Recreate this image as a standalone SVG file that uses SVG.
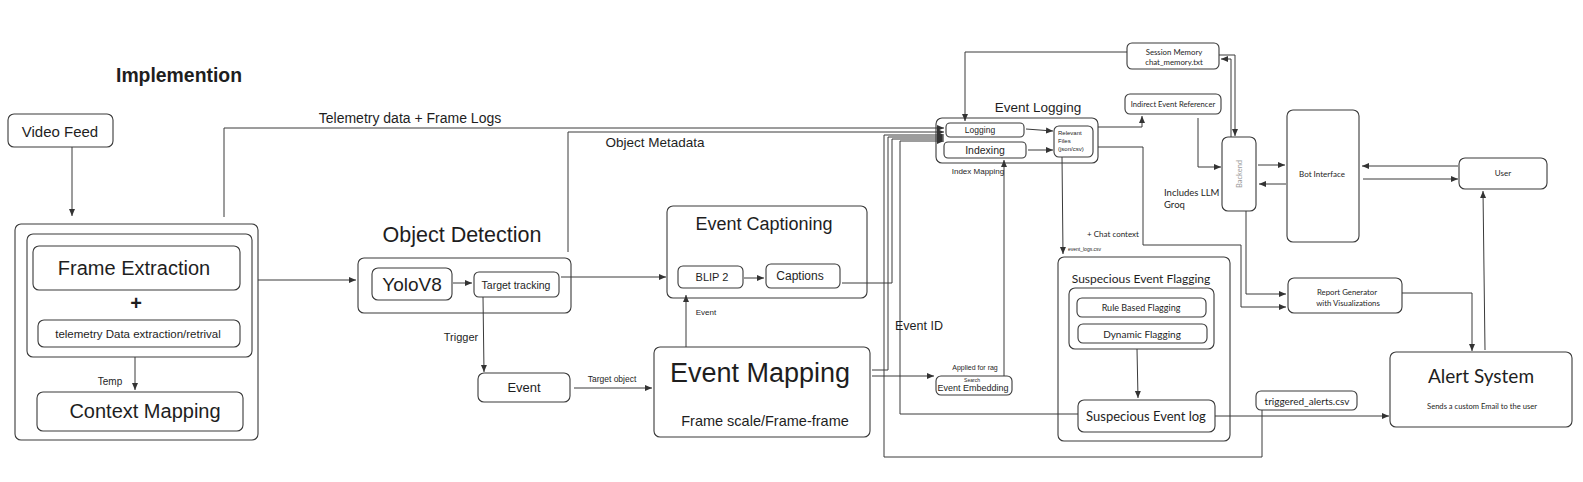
<svg xmlns="http://www.w3.org/2000/svg" width="1583" height="482" viewBox="0 0 1583 482">
<defs>
<marker id="a" markerWidth="8" markerHeight="8" refX="7" refY="4" orient="auto" markerUnits="userSpaceOnUse"><path d="M0,1 L7,4 L0,7 Z" fill="#333"/></marker>
<style>
.b{fill:none;stroke:#3a3a3a;stroke-width:1.1}
.t{font-family:"Liberation Sans",Arial,sans-serif;fill:#1e1e1e;text-anchor:middle;dominant-baseline:central}
.n{font-family:"Lato","Noto Sans",sans-serif;fill:#1e1e1e;text-anchor:middle;dominant-baseline:central}
.l{text-anchor:start}
.c{fill:none;stroke:#3a3a3a;stroke-width:1;marker-end:url(#a)}
</style>
</defs>
<rect width="1583" height="482" fill="#fff"/>

<g id="title"><text class="t" x="179" y="75" font-size="19.5" font-family="Lato" font-weight="900" textLength="126" lengthAdjust="spacingAndGlyphs">Implemention</text></g>

<g id="video-feed"><rect class="b" x="8" y="114" width="105" height="33" rx="6"/><text class="t" x="60" y="131" font-size="15">Video Feed</text></g>

<g id="extraction-container"><rect class="b" x="15" y="224" width="243" height="216" rx="6"/></g>
<g id="extraction-inner"><rect class="b" x="27" y="234" width="225" height="123" rx="6"/><text class="t" x="136" y="303" font-size="20" font-weight="bold">+</text></g>
<g id="frame-extraction"><rect class="b" x="33" y="246" width="207" height="44" rx="6"/><text class="t" x="134" y="268" font-size="20">Frame Extraction</text></g>
<g id="telemetry-extraction"><rect class="b" x="38" y="320" width="202" height="27" rx="6"/><text class="t" x="138" y="334" font-size="11.5">telemetry Data extraction/retrival</text></g>
<g id="context-mapping"><rect class="b" x="37" y="392" width="206" height="39" rx="6"/><text class="t" x="145" y="411" font-size="20">Context Mapping</text></g>

<g id="object-detection"><rect class="b" x="358" y="258" width="213" height="55" rx="6"/><text class="t" x="462" y="235" font-size="21.5">Object Detection</text></g>
<g id="yolov8"><rect class="b" x="372" y="268" width="80" height="32" rx="6"/><text class="t" x="412" y="284" font-size="19">YoloV8</text></g>
<g id="target-tracking"><rect class="b" x="474" y="272" width="85" height="25" rx="5"/><text class="t" x="516" y="285" font-size="10.5">Target tracking</text></g>
<g id="event"><rect class="b" x="478" y="373" width="92" height="29" rx="6"/><text class="t" x="524" y="387" font-size="13">Event</text></g>

<g id="event-captioning"><rect class="b" x="667" y="206" width="200" height="92" rx="6"/><text class="t" x="764" y="224" font-size="18">Event Captioning</text></g>
<g id="blip2"><rect class="b" x="678" y="266" width="65" height="22" rx="5"/><text class="t" x="712" y="277" font-size="11">BLIP 2</text></g>
<g id="captions"><rect class="b" x="766" y="264" width="74" height="24" rx="5"/><text class="t" x="800" y="276" font-size="12">Captions</text></g>

<g id="event-mapping"><rect class="b" x="654" y="347" width="216" height="90" rx="6"/><text class="t" x="760" y="373" font-size="27">Event Mapping</text><text class="t" x="765" y="421" font-size="14.5">Frame scale/Frame-frame</text></g>

<g id="event-embedding"><rect class="b" x="936" y="376" width="76" height="19" rx="5"/><text class="t" x="973" y="388" font-size="9">Event Embedding</text><text class="t" x="972" y="379.5" font-size="5">Search</text></g>

<g id="event-logging"><rect class="b" x="936" y="118" width="162" height="45" rx="6"/><text class="t" x="1038" y="107" font-size="13.5">Event Logging</text></g>
<g id="logging"><rect class="b" x="946" y="123" width="78" height="14" rx="4"/><text class="t" x="980" y="130" font-size="8.5">Logging</text></g>
<g id="indexing"><rect class="b" x="944" y="142" width="82" height="16" rx="4"/><text class="t" x="985" y="150" font-size="10.5">Indexing</text></g>
<g id="relevant-files"><rect class="b" x="1054" y="126" width="39" height="31" rx="5"/><text class="t l" x="1058" y="133" font-size="6">Relevant</text><text class="t l" x="1058" y="141" font-size="6">Files</text><text class="t l" x="1058" y="148.5" font-size="6">(json/csv)</text></g>

<g id="session-memory"><rect class="b" x="1127" y="43" width="92" height="26" rx="5"/><text class="n" x="1174" y="51.5" font-size="7.8">Session Memory</text><text class="n" x="1174" y="61.5" font-size="7.8">chat_memory.txt</text></g>
<g id="indirect-referencer"><rect class="b" x="1125" y="94" width="96" height="20" rx="5"/><text class="n" x="1173" y="104" font-size="7.6">Indirect Event Referencer</text></g>
<g id="backend"><rect class="b" x="1222" y="137" width="34" height="74" rx="6"/><text class="n" x="0" y="0" font-size="7.5" style="fill:#9a9a9a" transform="translate(1239,174) rotate(-90)">Backend</text></g>
<g id="llm-note"><text class="n l" x="1164" y="192" font-size="9.5">Includes LLM</text><text class="n l" x="1164" y="204" font-size="9.5">Groq</text></g>
<g id="bot-interface"><rect class="b" x="1287" y="110" width="72" height="132" rx="6"/><text class="n" x="1322" y="174" font-size="8">Bot Interface</text></g>
<g id="user"><rect class="b" x="1459" y="158" width="88" height="31" rx="6"/><text class="n" x="1503" y="173" font-size="8">User</text></g>

<g id="report-generator"><rect class="b" x="1288" y="278" width="114" height="35" rx="6"/><text class="n" x="1347" y="292" font-size="7.8">Report Generator</text><text class="n" x="1348" y="302.5" font-size="7.8">with Visualizations</text></g>

<g id="suspicious-flagging"><rect class="b" x="1058" y="257" width="172" height="184" rx="6"/><text class="n" x="1141" y="278" font-size="12">Suspecious Event Flagging</text></g>
<g id="flagging-inner"><rect class="b" x="1069" y="288" width="145" height="61" rx="6"/></g>
<g id="rule-based"><rect class="b" x="1077" y="298" width="129" height="19" rx="5"/><text class="n" x="1141" y="307.5" font-size="9">Rule Based Flagging</text></g>
<g id="dynamic-flagging"><rect class="b" x="1078" y="324" width="129" height="19" rx="5"/><text class="n" x="1142" y="333.5" font-size="10">Dynamic Flagging</text></g>
<g id="suspicious-log"><rect class="b" x="1078" y="400" width="137" height="32" rx="6"/><text class="n" x="1146" y="416" font-size="13">Suspecious Event log</text></g>

<g id="triggered-alerts"><rect class="b" x="1256" y="391" width="101" height="19" rx="5"/><text class="n" x="1307" y="400.5" font-size="10">triggered_alerts.csv</text></g>
<g id="alert-system"><rect class="b" x="1390" y="352" width="182" height="75" rx="6"/><text class="n" x="1481" y="375" font-size="19">Alert System</text><text class="n" x="1482" y="406" font-size="7.6">Sends a custom Email to the user</text></g>

<g id="connectors">
<path class="c" d="M72,147 L72,216"/>
<path class="c" d="M224,217 L224,128 L944,128"/>
<path class="c" d="M258,280 L356,280"/>
<path class="c" d="M453,283 L472,283"/>
<path class="c" d="M561,277 L666,277"/>
<path class="c" d="M568,252 L568,132 L944,132"/>
<path class="c" d="M483,297 L484,372"/>
<path class="c" d="M574,388 L652,388"/>
<path class="c" d="M686,347 L686,295"/>
<path class="c" d="M744,278 L764,278"/>
<path class="c" d="M842,283 L892,283 L892,139 L944,139"/>
<path class="c" d="M872,370 L888,370 L888,137 L944,137"/>
<path class="c" d="M872,376 L934,376"/>
<path class="c" d="M1004,376 L1004,160"/>
<path class="c" d="M1078,414 L900,414 L900,141 L944,141"/>
<path class="c" d="M1262,410 L1262,457 L884,457 L884,135 L944,135"/>
<path class="c" d="M1127,52 L965,52 L965,121"/>
<path class="c" d="M1026,129 L1053,131"/>
<path class="c" d="M1028,150 L1053,150"/>
<path class="c" d="M1098,127 L1142,127 L1142,116"/>
<path class="c" d="M1098,147 L1143,147 L1143,245 L1241,245 L1241,307 L1286,307"/>
<path class="c" d="M1062,157 L1063,254"/>
<path class="c" d="M1198,118 L1198,167 L1221,167"/>
<path class="c" d="M1231,137 L1231,59 L1221,59"/>
<path class="c" d="M1219,55 L1235,55 L1235,136"/>
<path class="c" d="M1258,165 L1285,165"/>
<path class="c" d="M1286,184 L1259,184"/>
<path class="c" d="M1458,166 L1362,166"/>
<path class="c" d="M1363,179 L1458,179"/>
<path class="c" d="M1246,211 L1246,294 L1286,294"/>
<path class="c" d="M1402,293 L1472,293 L1472,351"/>
<path class="c" d="M1485,350 L1483,191"/>
<path class="c" d="M1137,349 L1138,398"/>
<path class="c" d="M1215,416 L1389,416"/>
<path class="c" d="M135,357 L135,390"/>
</g>

<g id="labels">
<text class="t" x="410" y="118" font-size="14">Telemetry data + Frame Logs</text>
<text class="t" x="655" y="142" font-size="13.5">Object Metadata</text>
<text class="t" x="110" y="381" font-size="10">Temp</text>
<text class="t" x="461" y="337" font-size="11">Trigger</text>
<text class="t" x="612" y="379" font-size="8.5">Target object</text>
<text class="t" x="706" y="312" font-size="8">Event</text>
<text class="t" x="919" y="326" font-size="12.5">Event ID</text>
<text class="t" x="975" y="367" font-size="7">Applied for rag</text>
<text class="t" x="978" y="171" font-size="8">Index Mapping</text>
<text class="n" x="1113" y="234" font-size="8">+ Chat context</text>
<text class="t l" x="1068" y="249" font-size="5">event_logs.csv</text>
</g>
</svg>
